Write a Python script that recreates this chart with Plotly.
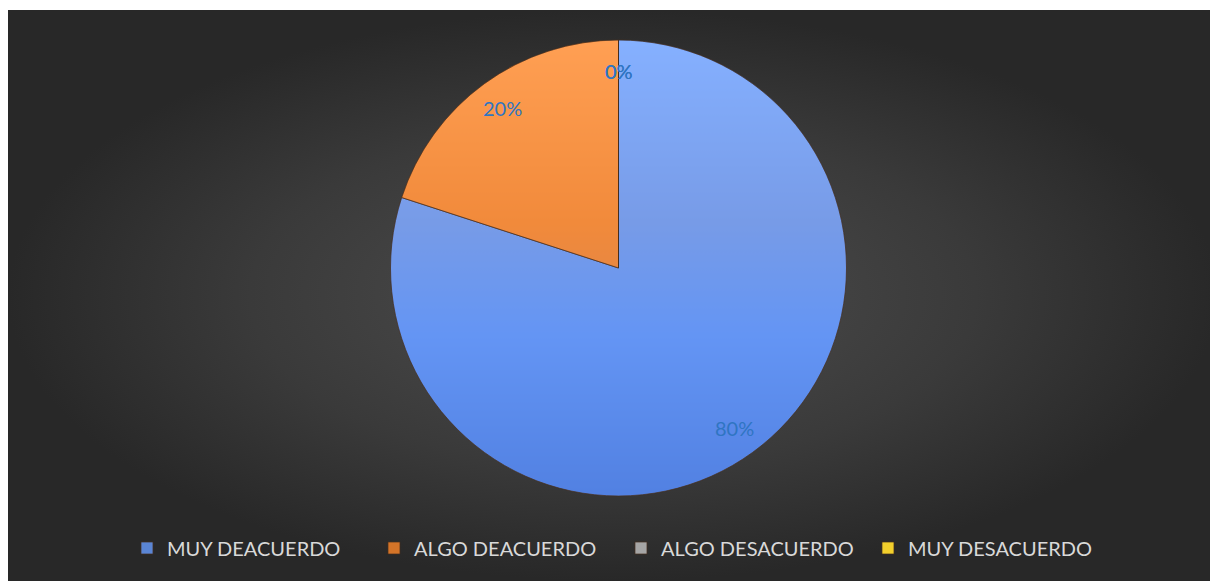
import numpy as np
import plotly.graph_objects as go

# data
labels = ["MUY DEACUERDO", "ALGO DEACUERDO", "ALGO DESACUERDO", "MUY DESACUERDO"]
values = [80, 20, 0, 0]
slice_colors = ["rgba(103,156,255,0.8)", "rgba(255,135,40,0.8)", "#a5a5a5", "#f2cf2c"]
label_color = "#2f75c2"

# geometry of the plot area (px) and the pie inside it
W, H = 1210, 571
cx, cy = 610.5, 313
R = 228

fig = go.Figure()

# dark radial background
fig.add_trace(go.Scatter(
    x=[0, W, W, 0, 0], y=[0, 0, H, H, 0],
    mode="none", fill="toself",
    fillgradient=dict(type="radial", colorscale=[[0, "#4e4e4e"], [0.6, "#3a3a3a"], [1, "#282828"]]),
    hoverinfo="skip", showlegend=False,
))

# light-at-top shading that shows through the translucent slices
t = np.linspace(0, 2 * np.pi, 361)
fig.add_trace(go.Scatter(
    x=cx + (R - 0.5) * np.cos(t), y=cy + (R - 0.5) * np.sin(t),
    mode="none", fill="toself",
    fillgradient=dict(type="vertical",
                      colorscale=[[0, "rgb(0,20,110)"], [0.35, "rgb(90,120,200)"],
                                  [0.6, "rgb(185,150,135)"], [1, "rgb(255,255,255)"]]),
    hoverinfo="skip", showlegend=False,
))

fig.add_trace(go.Pie(
    labels=labels,
    values=values,
    sort=False,
    direction="clockwise",
    rotation=0,
    marker=dict(colors=slice_colors, line=dict(color="rgba(70,45,30,0.7)", width=1)),
    textinfo="none",
    domain=dict(x=[(cx - R) / W, (cx + R) / W], y=[(cy - R) / H, (cy + R) / H]),
    hoverinfo="label+percent",
))

# percent labels placed at each slice's mid angle, like the source chart
total = sum(values)
cum = 0
for v in values:
    mid = 2 * np.pi * (cum + v / 2) / total
    cum += v
    r = 0.865 * R
    fig.add_annotation(
        x=(cx + r * np.sin(mid)) / W, y=(cy + r * np.cos(mid)) / H,
        xref="paper", yref="paper", xanchor="center", yanchor="middle",
        text=f"{v / total:.0%}", showarrow=False,
        font=dict(family="Lato", size=20, color=label_color),
    )

fig.update_layout(
    width=1210,
    height=573,
    margin=dict(l=0, r=0, t=2, b=0, pad=0),
    paper_bgcolor="#ffffff",
    plot_bgcolor="#2a2a2a",
    xaxis=dict(range=[0, W], visible=False, fixedrange=True),
    yaxis=dict(range=[0, H], visible=False, fixedrange=True),
    legend=dict(
        orientation="h", x=0.5066, xanchor="center", y=(H - 538) / H, yanchor="middle",
        font=dict(family="Lato", size=20, color="#d9d9d9"),
        bgcolor="rgba(0,0,0,0)",
        entrywidth=202, entrywidthmode="pixels",
    ),
)

fig.write_html("out.html")
